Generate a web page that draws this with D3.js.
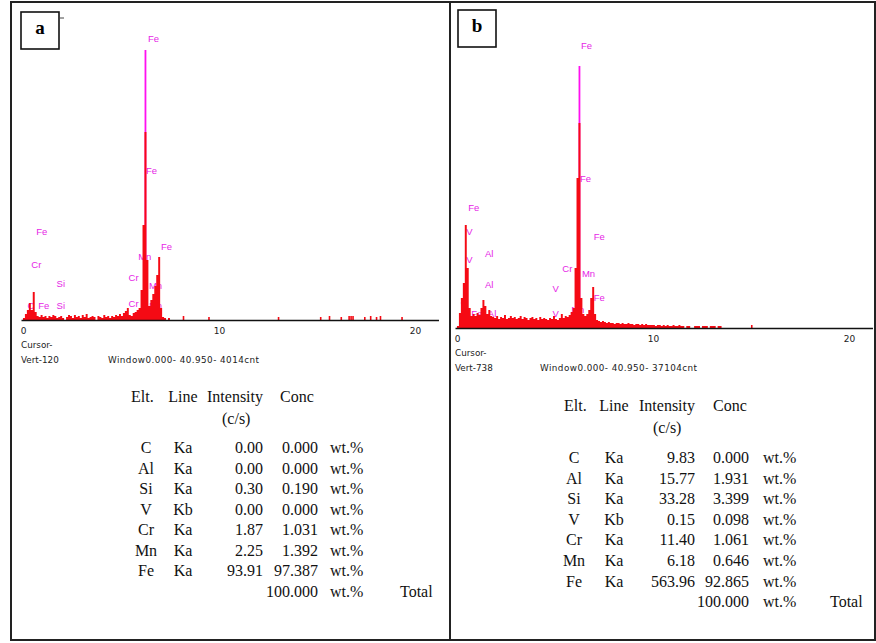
<!DOCTYPE html>
<html>
<head>
<meta charset="utf-8">
<script src="https://cdn.jsdelivr.net/npm/d3@7"></script>
<style>
  body { margin: 0; background: #fff; }
  svg { display: block; }
</style>
</head>
<body>
<div id="plot"></div>
<script>
// energy channels are 0.1 keV wide
const step = 0.1;
const ticks = [0, 10, 20];

// panel a spectrum, channels 0.0 - 7.9 keV
const countsA = [0, 2, 6, 10, 17, 10, 28, 8, 4, 3,
  5, 3, 4, 2, 4, 3, 5, 4, 2, 3,
  4, 2, 0, 3, 5, 4, 2, 5, 3, 4,
  2, 5, 3, 6, 2, 3, 4, 3, 0, 4,
  3, 2, 5, 3, 4, 2, 4, 3, 5, 4,
  6, 4, 7, 9, 12, 5, 4, 7, 8, 10,
  12, 30, 95, 188, 60, 14, 20, 26, 34, 45,
  63, 12, 3, 2, 0, 2, 0, 0, 0, 0];
// isolated counts further up the axis
const tailEA = [8.25, 9.55, 13.1, 15.25, 15.7, 16.3, 16.7, 16.8, 16.9, 17.5, 17.8, 18.1, 18.3, 19.4];
const tailCA = [4, 3, 3, 3, 4, 3, 4, 4, 4, 3, 4, 3, 4, 3];

// panel b spectrum, channels 0.0 - 13.9 keV
const countsB = [0, 2, 15, 30, 45, 103, 60, 20, 12, 14,
  12, 15, 13, 20, 28, 22, 14, 18, 12, 11,
  10, 12, 9, 11, 10, 13, 9, 10, 12, 10,
  11, 9, 10, 12, 9, 11, 10, 8, 10, 11,
  9, 10, 8, 11, 9, 10, 9, 8, 10, 9,
  12, 9, 8, 10, 14, 10, 12, 11, 13, 16,
  20, 60, 150, 205, 30, 14, 12, 14, 18, 30,
  41, 14, 8, 7, 6, 7, 6, 5, 6, 5,
  5, 4, 5, 5, 4, 5, 4, 4, 5, 4,
  4, 3, 4, 4, 3, 4, 3, 4, 3, 3,
  3, 3, 2, 3, 3, 2, 3, 2, 3, 2,
  2, 3, 2, 2, 3, 2, 2, 0, 2, 2,
  0, 0, 2, 2, 2, 0, 2, 2, 2, 0,
  2, 2, 2, 0, 2, 2, 0, 0, 0, 0];
const tailEB = [15.1];
const tailCB = [3];

// element markers (KLM lines)
const markerEA = [6.35], markerHA = [270];
const markerEB = [6.35], markerHB = [262];

// peak labels: element, energy (keV), height (counts)
const labelA = ["Fe", "Fe", "Fe", "Cr", "Si", "Si", "C", "Fe", "Cr", "Cr", "Mn", "Mn", "Mn", "Fe"];
const labelEA = [6.4, 6.3, 0.7, 0.45, 1.74, 1.74, 0.26, 0.8, 5.41, 5.41, 5.9, 6.45, 6.45, 7.06];
const labelHA = [278, 146, 85, 52, 33, 11, 11, 11, 39, 13, 60, 31, 11, 70];

const labelB = ["Fe", "Fe", "Fe", "V", "Al", "V", "Al", "C", "Fe", "Al", "Cr", "Mn", "V", "Fe", "V", "Mn", "Fe"];
const labelEB = [6.35, 6.3, 0.6, 0.5, 1.45, 0.5, 1.45, 0.2, 0.75, 1.6, 5.4, 6.4, 4.9, 7.0, 4.9, 5.85, 7.0];
const labelHB = [279, 146, 117, 93, 71, 65, 40, 22, 11, 11, 56, 51, 36, 27, 11, 15, 88];

// quantification tables
const elements = ["C", "Al", "Si", "V", "Cr", "Mn", "Fe"];
const lines = ["Ka", "Ka", "Ka", "Kb", "Ka", "Ka", "Ka"];
const intensityA = ["0.00", "0.00", "0.30", "0.00", "1.87", "2.25", "93.91"];
const concA = ["0.000", "0.000", "0.190", "0.000", "1.031", "1.392", "97.387"];
const intensityB = ["9.83", "15.77", "33.28", "0.15", "11.40", "6.18", "563.96"];
const concB = ["0.000", "1.931", "3.399", "0.098", "1.061", "0.646", "92.865"];
const totalConc = "100.000";

const width = 876, height = 643;
const red = "#f50a14", magenta = "#e61ee6";

const svg = d3.select("#plot").append("svg")
  .attr("width", width)
  .attr("height", height);

svg.append("rect").attr("width", width).attr("height", height).attr("fill", "#fff");

function drawPanel(p) {
  const g = svg.append("g");
  const x = d3.scaleLinear().domain([0, 21.3]).range([p.x0, p.x0 + 21.3 * 19.6]);
  const y = d3.scaleLinear().domain([0, 300]).range([p.base, p.base - 300]);

  // labels sit behind the spectrum, like the original screen grab
  g.selectAll(".lab")
    .data(p.labels)
    .join("text")
    .attr("class", "lab")
    .attr("x", (d, i) => x(p.labelE[i]) + 1.5)
    .attr("y", (d, i) => y(p.labelH[i]))
    .attr("font-family", "Liberation Sans, Arial, sans-serif")
    .attr("font-size", "9.5px")
    .attr("fill", magenta)
    .text(d => d);

  g.selectAll(".marker")
    .data(p.markerE)
    .join("line")
    .attr("x1", d => x(d)).attr("x2", d => x(d))
    .attr("y1", y(0))
    .attr("y2", (d, i) => y(p.markerH[i]))
    .attr("stroke", "#ff10f0")
    .attr("stroke-width", 1.8);

  const pts = p.counts.concat([0]);
  const area = d3.area()
    .x((d, i) => x(i * step))
    .y0(y(0))
    .y1(d => y(d))
    .curve(d3.curveStepAfter);
  g.append("path")
    .attr("d", area(pts))
    .attr("fill", red);

  g.selectAll(".tail")
    .data(p.tailE)
    .join("rect")
    .attr("x", d => x(d))
    .attr("width", 1.6)
    .attr("y", (d, i) => y(p.tailC[i]))
    .attr("height", (d, i) => y(0) - y(p.tailC[i]))
    .attr("fill", red);

  const axis = g.append("g")
    .attr("transform", `translate(0,${p.base})`)
    .call(d3.axisBottom(x).tickValues(ticks).tickSize(0).tickSizeOuter(0).tickPadding(8));
  axis.select(".domain").attr("stroke", "#111").attr("stroke-width", 1.6);
  axis.selectAll("text")
    .attr("x", 2)
    .attr("font-family", "DejaVu Sans, sans-serif")
    .attr("font-size", "9px")
    .attr("fill", "#222");

  const info = g.append("g")
    .attr("font-family", "DejaVu Sans, sans-serif")
    .attr("font-size", "8.8px")
    .attr("fill", "#222")
    .style("white-space", "pre");
  info.append("text").attr("x", p.x0).attr("y", p.base + 28).text("Cursor-");
  info.append("text").attr("x", p.x0).attr("y", p.base + 43).text(p.vert);
  info.append("text").attr("x", p.winX).attr("y", p.base + 43)
    .attr("letter-spacing", "0.45px")
    .text("Window0.000- 40.950-  " + p.cnt);

  // table
  const t = g.append("g")
    .attr("font-family", "Liberation Serif, Times New Roman, serif")
    .attr("font-size", p.fs + "px")
    .attr("fill", "#111");
  const c = p.cols;
  t.append("text").attr("x", c.eltHead).attr("y", p.head).text("Elt.");
  t.append("text").attr("x", c.line).attr("y", p.head).attr("text-anchor", "middle").text("Line");
  t.append("text").attr("x", c.intensity).attr("y", p.head).attr("text-anchor", "end").text("Intensity");
  t.append("text").attr("x", c.concHead).attr("y", p.head).text("Conc");
  t.append("text").attr("x", c.cs).attr("y", p.head + 22).text("(c/s)");

  const rowY = i => p.first + i * p.row;
  t.selectAll(".elt").data(elements).join("text")
    .attr("x", c.elt).attr("y", (d, i) => rowY(i)).attr("text-anchor", "middle").text(d => d);
  t.selectAll(".line").data(lines).join("text")
    .attr("x", c.line).attr("y", (d, i) => rowY(i)).attr("text-anchor", "middle").text(d => d);
  t.selectAll(".int").data(p.intensity).join("text")
    .attr("x", c.intensity).attr("y", (d, i) => rowY(i)).attr("text-anchor", "end").text(d => d);
  t.selectAll(".conc").data(p.conc.concat([totalConc])).join("text")
    .attr("x", c.conc).attr("y", (d, i) => rowY(i)).attr("text-anchor", "end").text(d => d);
  t.selectAll(".unit").data(p.conc.concat([totalConc])).join("text")
    .attr("x", c.unit).attr("y", (d, i) => rowY(i)).text("wt.%");
  t.append("text").attr("x", c.total).attr("y", rowY(elements.length)).text("Total");

  // panel letter
  g.append("rect")
    .attr("x", p.box[0]).attr("y", p.box[1]).attr("width", 38).attr("height", 37)
    .attr("fill", "#fff").attr("stroke", "#111").attr("stroke-width", 1.6);
  g.append("text")
    .attr("x", p.box[0] + 19).attr("y", p.box[1] + 22)
    .attr("text-anchor", "middle")
    .attr("font-family", "Liberation Serif, Times New Roman, serif")
    .attr("font-weight", "bold")
    .attr("font-size", "19px")
    .text(p.letter);
}

drawPanel({
  x0: 21, base: 320, counts: countsA, tailE: tailEA, tailC: tailCA,
  markerE: markerEA, markerH: markerHA,
  labels: labelA, labelE: labelEA, labelH: labelHA,
  vert: "Vert-120", cnt: "4014cnt", winX: 108,
  intensity: intensityA, conc: concA, fs: 16,
  head: 402, row: 20.5, first: 453,
  cols: { eltHead: 131, elt: 146, line: 183, intensity: 263, concHead: 280, cs: 222, conc: 318, unit: 330, total: 400 },
  box: [21, 12], letter: "a"
});

drawPanel({
  x0: 455, base: 328, counts: countsB, tailE: tailEB, tailC: tailCB,
  markerE: markerEB, markerH: markerHB,
  labels: labelB, labelE: labelEB, labelH: labelHB,
  vert: "Vert-738", cnt: "37104cnt", winX: 540,
  intensity: intensityB, conc: concB, fs: 16,
  head: 411, row: 20.6, first: 463,
  cols: { eltHead: 564, elt: 574, line: 614, intensity: 695, concHead: 713, cs: 653, conc: 749, unit: 763, total: 830 },
  box: [458, 10], letter: "b"
});

// outer frame and divider
const frame = svg.append("g").attr("stroke", "#222").attr("stroke-width", 2);
frame.append("line").attr("x1", 11).attr("x2", 876).attr("y1", 2).attr("y2", 2);
frame.append("line").attr("x1", 11).attr("x2", 876).attr("y1", 640).attr("y2", 640);
frame.append("line").attr("x1", 11).attr("x2", 11).attr("y1", 1).attr("y2", 641);
frame.append("line").attr("x1", 450).attr("x2", 450).attr("y1", 1).attr("y2", 641);
frame.append("line").attr("x1", 875).attr("x2", 875).attr("y1", 1).attr("y2", 641);
svg.append("line").attr("x1", 60).attr("x2", 64).attr("y1", 18).attr("y2", 18)
  .attr("stroke", "#444").attr("stroke-width", 1);
</script>
</body>
</html>
